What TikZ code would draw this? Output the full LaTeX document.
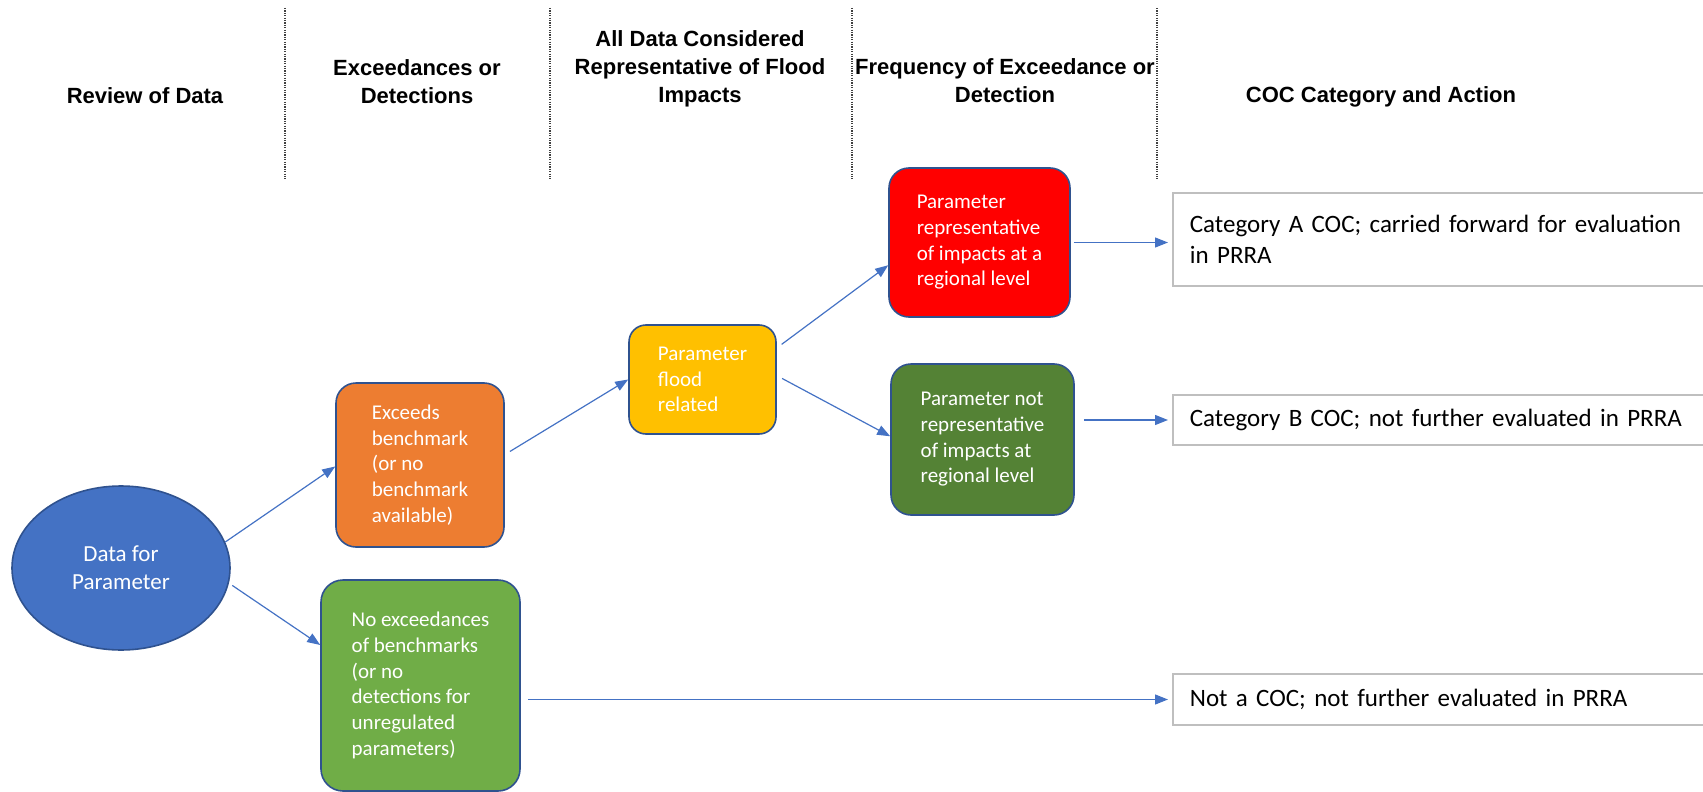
\documentclass[tikz,border=0pt]{standalone}
\usepackage{fontspec}
\setmainfont{Carlito}
\newfontfamily\headfont{Liberation Sans}
\usetikzlibrary{arrows.meta,shapes.geometric}

\definecolor{officeblue}{HTML}{4472C4}
\definecolor{edgeblue}{HTML}{2F528F}
\definecolor{boxorange}{HTML}{ED7D31}
\definecolor{boxlime}{HTML}{70AD47}
\definecolor{boxyellow}{HTML}{FFC000}
\definecolor{boxred}{HTML}{FF0000}
\definecolor{boxforest}{HTML}{548235}
\definecolor{resultgray}{HTML}{BFBFBF}

\begin{document}
\begin{tikzpicture}[x=1pt, y=-1pt,
        header/.style={font=\headfont\bfseries\fontsize{22}{28}\selectfont, align=center},
        sep/.style={dash pattern=on 1.2pt off 1.2pt, line width=1.2pt, black!75},
        box/.style={draw=edgeblue, line width=1.6pt, rounded corners=20pt, text=white, align=left, inner sep=0pt, font=\fontsize{21}{25.7}\selectfont},
        result/.style={draw=resultgray, line width=1.8pt, anchor=west, minimum width=548pt, text width=514pt, inner xsep=17pt, align=left, font=\fontsize{25}{31.5}\selectfont},
        link/.style={officeblue, line width=1.2pt, -{Triangle[length=13pt,width=10pt]}, shorten <=6pt}]

        \useasboundingbox (0,0) rectangle (1703,792);

        % Column headings
        \node[header] (hreview) at (145,96) {Review of Data};
        \node[header] (hexceed) at (417,82) {Exceedances or\\Detections};
        \node[header] (hflood) at (700,69) {All Data Considered\\Representative of Flood\\Impacts};
        \node[header] (hfreq) at (1005,81) {Frequency of Exceedance or\\Detection};
        \node[header] (haction) at (1381,97) {COC Category and Action};

        % Column separators
        \draw[sep] (285,8) -- (285,179);
        \draw[sep] (550,8) -- (550,179);
        \draw[sep] (852,8) -- (852,179);
        \draw[sep] (1157,8) -- (1157,179);

        % Start
        \node[ellipse, draw=edgeblue, line width=1.6pt, fill=officeblue, text=white, align=center, inner sep=0pt,
              minimum width=218pt, minimum height=164pt, font=\fontsize{23}{27.7}\selectfont] (param) at (121,568) {Data for\\Parameter};

        % Screening steps
        \node[box, fill=boxorange, minimum width=168pt, minimum height=164pt] (exceeds) at (420,465)
            {Exceeds\\benchmark\\(or no\\benchmark\\available)};
        \node[box, fill=boxlime, minimum width=199pt, minimum height=211pt, rounded corners=22pt] (noexceed) at (420.5,685.5)
            {No exceedances\\of benchmarks\\(or no\\detections for\\unregulated\\parameters)};
        \node[box, fill=boxyellow, minimum width=147pt, minimum height=109pt, rounded corners=17pt] (flood) at (702.5,379.5)
            {Parameter\\flood\\related};
        \node[box, fill=boxred, minimum width=181pt, minimum height=149pt] (regional) at (979.5,242.5)
            {Parameter\\representative\\of impacts at a\\regional level};
        \node[box, fill=boxforest, minimum width=183pt, minimum height=151pt] (notregional) at (982.5,439.5)
            {Parameter not\\representative\\of impacts at\\regional level};

        % Outcomes
        \node[result, minimum height=93pt] (catA) at (1172,239.5) {Category A COC; carried forward for evaluation\\in PRRA};
        \node[result, minimum height=50pt] (catB) at (1172,420) {Category B COC; not further evaluated in PRRA};
        \node[result, minimum height=51pt] (notcoc) at (1172,699.5) {Not a COC; not further evaluated in PRRA};

        % Arrows
        \draw[link, shorten <=0pt] (param.14) -- (exceeds.181);
        \draw[link, shorten <=4pt] (param.352) -- (noexceed.158);
        \draw[link] (exceeds.7) -- (flood.west);
        \draw[link] (flood.23) -- (regional.194);
        \draw[link] (flood.3) -- (notregional.178);
        \draw[link, shorten <=3pt, shorten >=4pt] (regional.east) -- (regional.east -| catA.west);
        \draw[link, shorten <=9pt, shorten >=4pt] (notregional.east |- catB.west) -- (catB.west);
        \draw[link, shorten <=7pt, shorten >=4pt] (noexceed.east |- notcoc.west) -- (notcoc.west);
    \end{tikzpicture}
\end{document}
